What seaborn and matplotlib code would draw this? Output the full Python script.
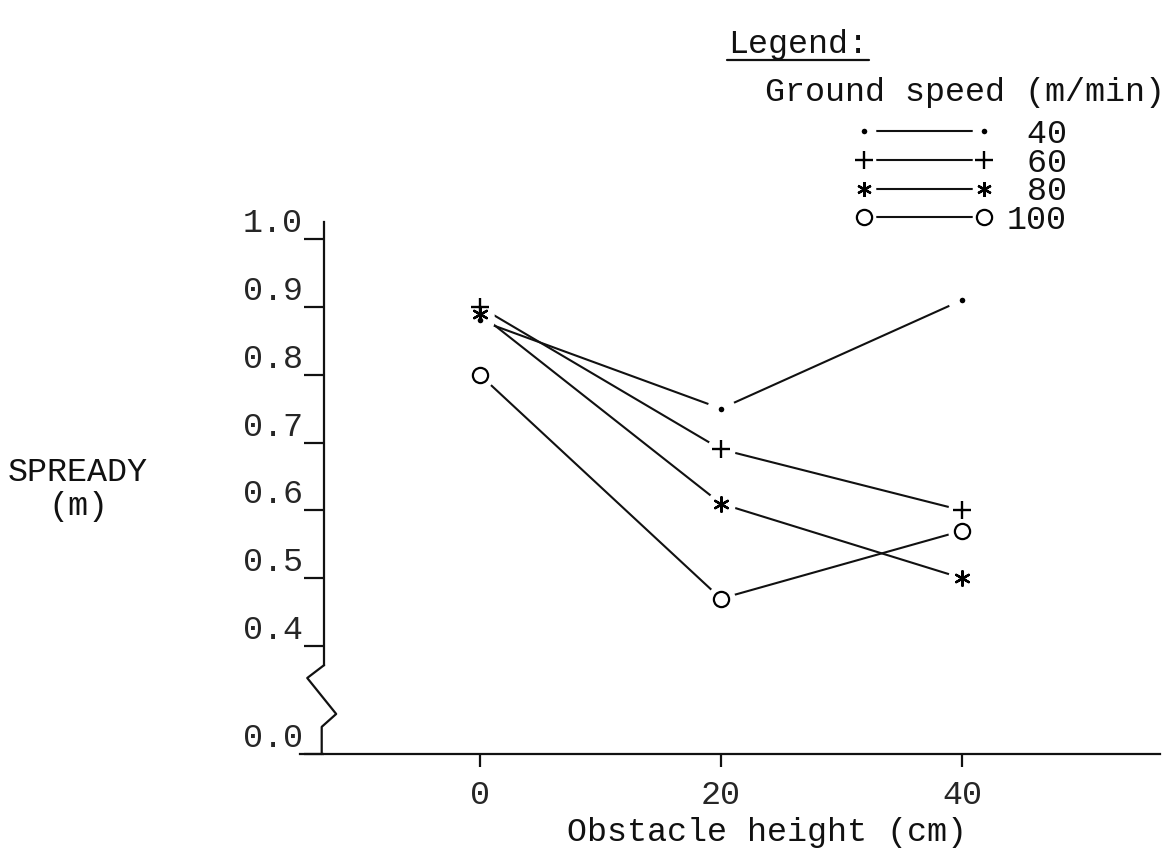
import matplotlib
matplotlib.use("Agg")
import matplotlib.pyplot as plt
from matplotlib.lines import Line2D
from matplotlib.legend_handler import HandlerTuple
import seaborn as sns

# --- data ---
HEIGHTS = [0, 20, 40]                    # obstacle height (cm)
SPEEDS = ["40", "60", "80", "100"]       # ground speed (m/min)
SPREAD_40 = [0.88, 0.75, 0.91]
SPREAD_60 = [0.90, 0.69, 0.60]
SPREAD_80 = [0.89, 0.61, 0.50]
SPREAD_100 = [0.80, 0.47, 0.57]
Y_TICKS = [0.4, 0.5, 0.6, 0.7, 0.8, 0.9, 1.0]
Y_BREAK = 0.241      # where the "0.0" sits below the broken axis
X_TICKS = [0, 20, 40]

series = dict(zip(SPEEDS, [SPREAD_40, SPREAD_60, SPREAD_80, SPREAD_100]))

# typewriter marks for each speed
marks = {
    "40": dict(marker="o", s=16, facecolor="black", edgecolor="black", linewidth=0),
    "60": dict(marker="+", s=150, color="black", linewidth=1.7),
    "80": dict(marker=(6, 2, 0), s=110, color="black", linewidth=1.7),
    "100": dict(marker="o", s=120, facecolor="white", edgecolor="black", linewidth=1.6),
}

sns.set_theme(style="white")
FONT = "Liberation Mono"
plt.rcParams["font.family"] = [FONT, "DejaVu Sans"]
FS = 24
INK = "#111111"

fig = plt.figure(figsize=(11.75, 8.51), dpi=100)
W, H = 1175, 851
ax = fig.add_axes([300 / W, 1 - 754 / H, 860 / W, (754 - 222) / H])
ax.set_facecolor("white")

for sp in SPEEDS:
    sns.lineplot(x=HEIGHTS, y=series[sp], color=INK, linewidth=1.5, ax=ax, zorder=2)
    # white halo so the lines stop short of each typed mark
    sns.scatterplot(x=HEIGHTS, y=series[sp], s=420, color="white", linewidth=0,
                    ax=ax, zorder=3)
for sp in SPEEDS:
    sns.scatterplot(x=HEIGHTS, y=series[sp], ax=ax, zorder=4, **marks[sp])

ax.set_xlim(-14.9, 56.4)
ax.set_ylim(Y_BREAK, 1.025)

# axes styling: broken y axis with a zigzag
for side in ["top", "right"]:
    ax.spines[side].set_visible(False)
ax.spines["left"].set_position(("data", -12.9))
ax.spines["left"].set_bounds(0.372, 1.025)
for side in ["left", "bottom"]:
    ax.spines[side].set_color(INK)
    ax.spines[side].set_linewidth(1.6)
ax.plot([-12.9, -14.3, -11.9, -13.1, -13.1], [0.372, 0.353, 0.300, 0.281, Y_BREAK],
        color=INK, linewidth=1.6, clip_on=False, zorder=5)

ax.set_yticks([Y_BREAK] + Y_TICKS)
ax.set_yticklabels(["0.0"] + [f"{v:.1f}" for v in Y_TICKS])
ax.set_xticks(X_TICKS)
ax.set_xticklabels([str(v) for v in X_TICKS])
ax.tick_params(axis="y", direction="out", length=14.5, width=1.6, color=INK,
               pad=1, labelsize=FS, left=True)
ax.tick_params(axis="x", direction="out", length=9, width=1.6, color=INK,
               pad=10, labelsize=FS, bottom=True)
for lab in ax.get_yticklabels():
    lab.set_va("bottom")
ax.set_xlabel("")
ax.set_ylabel("")

fig.text(767 / W, 1 - 832 / H, "Obstacle height (cm)", ha="center", va="center",
         fontsize=FS, color=INK)
fig.text(78 / W, 1 - 472 / H, "SPREADY", ha="center", va="center", fontsize=FS,
         color=INK)
fig.text(78 / W, 1 - 507 / H, "(m)", ha="center", va="center", fontsize=FS,
         color=INK)

# "Legend:" heading, underlined, and the legend title line
fig.text(798 / W, 1 - 45 / H, "Legend:", ha="center", va="center", fontsize=FS,
         color=INK)
fig.add_artist(Line2D([727 / W, 869 / W], [1 - 60 / H, 1 - 60 / H],
                      color=INK, linewidth=1.6))
fig.text(965 / W, 1 - 93 / H, "Ground speed (m/min)", ha="center", va="center",
         fontsize=FS, color=INK)

handles = []
for sp in SPEEDS:
    m = marks[sp]
    line = Line2D([], [], color=INK, linewidth=1.5)
    halo = Line2D([], [], linestyle="none", marker="o", markersize=17,
                  markerfacecolor="white", markeredgewidth=0)
    mk = Line2D([], [], linestyle="none", marker=m["marker"],
                markersize=m["s"] ** 0.5,
                markerfacecolor=m.get("facecolor", "black"),
                markeredgecolor=m.get("edgecolor", "black"),
                markeredgewidth=m["linewidth"])
    handles.append((line, halo, mk))

leg = ax.legend(handles, [f"{sp:>3}" for sp in SPEEDS],
                handler_map={tuple: HandlerTuple(ndivide=1)},
                fontsize=FS, loc="upper right", bbox_to_anchor=(1067 / W, 1 - 119 / H),
                bbox_transform=fig.transFigure, frameon=False, numpoints=2,
                handlelength=4.2, handletextpad=0.4, labelspacing=-0.07,
                borderpad=0, borderaxespad=0)
for t in leg.get_texts():
    t.set_color(INK)

fig.savefig("out.png", dpi=100, facecolor="white")
